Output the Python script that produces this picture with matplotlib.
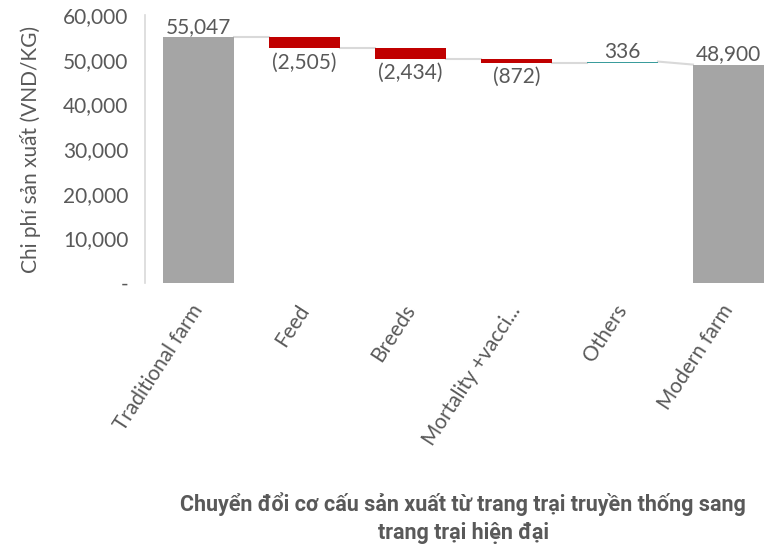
import matplotlib.pyplot as plt
from matplotlib.ticker import FuncFormatter

categories = ["Traditional farm", "Feed", "Breeds", "Mortality +vacci...", "Others", "Modern farm"]
values = [55047, -2505, -2434, -872, 336, 48900]
is_total = [True, False, False, False, False, True]

GREY = "#A5A5A5"
RED = "#C00000"
TEAL = "#3A9C9C"
TEXT = "#595959"
FS = 15

plt.rcParams["font.family"] = ["Lato", "DejaVu Sans"]

fig = plt.figure(figsize=(7.67, 5.47), dpi=100)
W, H = 767, 547
ax = fig.add_axes([145 / W, 1 - 283 / H, (W - 145) / W, (283 - 15) / H])

running = 0
bottoms, heights, colors, ends = [], [], [], []
for v, tot in zip(values, is_total):
    if tot:
        bottoms.append(0)
        heights.append(v)
        colors.append(GREY)
        running = v
    else:
        start = running
        running = start + v
        bottoms.append(min(start, running))
        heights.append(abs(v))
        colors.append(RED if v < 0 else TEAL)
    ends.append(running)

x = list(range(len(categories)))
width = 0.67
ax.bar(x, heights, bottom=bottoms, width=width, color=colors, zorder=3)

# connector lines
for i in range(len(x) - 1):
    y0 = ends[i]
    y1 = values[i + 1] if is_total[i + 1] else ends[i]
    ax.plot([x[i] + width / 2, x[i + 1] - width / 2], [y0, y1],
            color="#D9D9D9", lw=1.5, zorder=2)

# data labels
for i, (v, tot) in enumerate(zip(values, is_total)):
    if v < 0:
        ax.annotate(f"({abs(v):,})", (x[i], bottoms[i]), xytext=(0, -3),
                    textcoords="offset points", ha="center", va="top",
                    fontsize=FS, color=TEXT)
    else:
        ax.annotate(f"{v:,}", (x[i], bottoms[i] + heights[i]), xytext=(0, 0),
                    textcoords="offset points", ha="center", va="bottom",
                    fontsize=FS, color=TEXT)

ax.set_ylim(0, 60000)
ax.set_xlim(-0.505, (W - 198.5) / 106)
ax.set_yticks(range(0, 60001, 10000))
ax.yaxis.set_major_formatter(FuncFormatter(lambda v, p: "-" if v == 0 else f"{int(v):,}"))
ax.set_xticks(x)
ax.set_xticklabels(categories, rotation=57, ha="right", va="center", rotation_mode="anchor")
ax.tick_params(axis="both", length=0, labelsize=FS, labelcolor=TEXT)
ax.tick_params(axis="y", pad=12)
ax.tick_params(axis="x", pad=17)

for s in ["top", "right", "bottom"]:
    ax.spines[s].set_visible(False)
ax.spines["left"].set_color("#D9D9D9")
ax.spines["left"].set_linewidth(1.2)

ax.set_ylabel("Chi phí sản xuất (VND/KG)", fontsize=FS, color=TEXT, labelpad=16)

fig.text(463 / W, 1 - 518 / H,
         "Chuyển đổi cơ cấu sản xuất từ trang trại truyền thống sang\ntrang trại hiện đại",
         ha="center", va="center", fontsize=15.5, fontweight="bold", color=TEXT,
         family=["Roboto", "DejaVu Sans"], linespacing=1.3)

fig.savefig("out.png", dpi=100)
